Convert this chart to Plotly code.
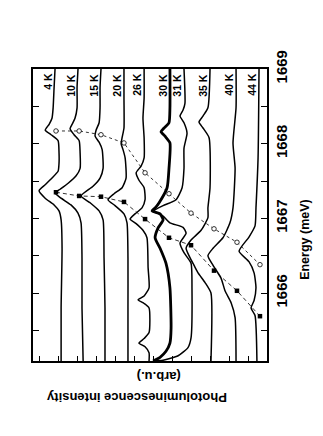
import plotly.graph_objects as go

# spectra: energy (meV) and PL intensity (arb.u., with offsets)
temps = ["4 K", "10 K", "15 K", "20 K", "26 K", "30 K", "31 K", "35 K", "40 K", "44 K"]

e_4k = [1669.00, 1668.75, 1668.48, 1668.34, 1668.26, 1668.18, 1668.12, 1668.04, 1667.88, 1667.74, 1667.63,
        1667.54, 1667.45, 1667.37, 1667.27, 1667.18, 1667.10, 1666.98, 1666.60, 1665.80, 1665.09]
i_4k = [11.16, 11.21, 11.26, 11.32, 11.47, 11.68, 11.37, 11.00, 10.95, 10.95, 11.00,
        11.32, 11.68, 12.00, 11.68, 11.21, 10.95, 10.84, 10.79, 10.84, 10.84]

e_10k = [1669.00, 1668.75, 1668.48, 1668.34, 1668.26, 1668.20, 1668.12, 1668.04, 1667.88, 1667.67, 1667.57,
         1667.47, 1667.39, 1667.34, 1667.27, 1667.18, 1667.07, 1666.94, 1666.47, 1665.80, 1665.09]
i_10k = [9.95, 10.00, 10.00, 10.11, 10.26, 10.37, 10.16, 9.89, 9.84, 9.84, 10.05,
         10.47, 10.89, 11.16, 10.84, 10.32, 9.95, 9.79, 9.74, 9.74, 9.68]

e_15k = [1669.00, 1668.75, 1668.48, 1668.28, 1668.18, 1668.10, 1668.02, 1667.92, 1667.67, 1667.54, 1667.43,
         1667.30, 1667.21, 1667.10, 1666.98, 1666.47, 1665.80, 1665.09]
i_15k = [8.74, 8.79, 8.79, 8.84, 9.00, 9.05, 8.84, 8.68, 8.63, 8.79, 9.16,
         9.79, 9.32, 8.84, 8.63, 8.58, 8.53, 8.53]

e_20k = [1669.00, 1668.61, 1668.21, 1668.08, 1668.00, 1667.92, 1667.81, 1667.54, 1667.41, 1667.33, 1667.25,
         1667.17, 1667.06, 1666.94, 1666.47, 1665.80, 1665.09]
i_20k = [7.53, 7.53, 7.53, 7.63, 7.68, 7.58, 7.47, 7.42, 7.63, 8.05, 8.37,
         8.00, 7.53, 7.37, 7.32, 7.32, 7.32]

e_26k = [1669.00, 1668.61, 1668.34, 1668.08, 1667.81, 1667.70, 1667.61, 1667.51, 1667.41, 1667.25, 1667.14,
         1667.06, 1666.99, 1666.93, 1666.84, 1666.74, 1666.34, 1666.07, 1665.96, 1665.91, 1665.86, 1665.80,
         1665.47, 1665.39, 1665.33, 1665.28, 1665.20, 1665.09]
i_26k = [6.47, 6.47, 6.53, 6.47, 6.47, 6.63, 6.89, 6.74, 6.47, 6.42, 6.58,
         6.95, 7.21, 6.89, 6.53, 6.32, 6.26, 6.21, 6.47, 6.79, 6.47, 6.21,
         6.21, 6.47, 6.74, 6.42, 6.21, 6.21]

e_30k = [1669.00, 1668.48, 1668.28, 1668.21, 1668.16, 1668.10, 1668.01, 1667.67, 1667.41, 1667.21, 1667.14,
         1667.10, 1667.06, 1666.98, 1666.87, 1666.74, 1666.60, 1666.40, 1666.07, 1665.53, 1665.33, 1665.22,
         1665.14, 1665.09]
i_30k = [5.11, 5.11, 5.16, 5.42, 5.58, 5.37, 5.11, 5.16, 5.26, 5.68, 5.89,
         6.05, 5.63, 5.47, 5.74, 5.89, 5.63, 5.32, 5.11, 5.05, 5.11, 5.32,
         5.63, 6.00]

e_31k = [1669.00, 1668.54, 1668.45, 1668.37, 1668.28, 1668.14, 1667.94, 1667.67, 1667.41, 1667.25, 1667.17,
         1667.10, 1667.03, 1666.94, 1666.88, 1666.80, 1666.67, 1666.54, 1666.40, 1666.07, 1665.40, 1665.27,
         1665.16, 1665.10, 1665.09]
i_31k = [4.37, 4.32, 4.42, 4.58, 4.37, 4.21, 4.37, 4.37, 4.47, 4.79, 5.47,
         5.95, 5.47, 5.11, 4.42, 4.26, 4.58, 4.37, 4.00, 3.95, 4.00, 4.16,
         4.68, 5.47, 6.00]

e_35k = [1669.00, 1668.48, 1668.37, 1668.29, 1668.21, 1668.08, 1667.41, 1667.14, 1667.01, 1666.84, 1666.71,
         1666.60, 1666.47, 1666.37, 1666.27, 1666.14, 1666.00, 1665.09]
i_35k = [3.00, 3.11, 3.37, 3.58, 3.37, 3.05, 3.00, 3.11, 3.11, 3.47, 4.00,
         4.26, 4.05, 3.84, 3.63, 3.26, 2.95, 2.95]

e_40k = [1669.00, 1668.48, 1668.01, 1667.67, 1667.14, 1666.94, 1666.74, 1666.60, 1666.50, 1666.37, 1666.20,
         1666.03, 1665.87, 1665.67, 1665.09]
i_40k = [1.63, 1.63, 1.79, 1.68, 1.79, 1.95, 2.32, 2.84, 3.11, 2.84, 2.42,
         2.21, 1.89, 1.68, 1.63]

e_44k = [1669.00, 1667.81, 1667.14, 1666.90, 1666.75, 1666.56, 1666.42, 1666.27, 1666.07, 1665.90, 1665.80,
         1665.70, 1665.09]
i_44k = [0.42, 0.47, 0.58, 0.63, 0.95, 1.47, 0.95, 0.68, 0.58, 0.68, 0.84, 0.63, 0.53]

# peak positions (meV) marked on each spectrum
peak_hi = [1668.17, 1668.17, 1668.12, 1668.01, 1667.61, 1667.33, 1667.07, 1666.86, 1666.68, 1666.38]
peak_x = [1667.35, 1667.30, 1667.29, 1667.22, 1666.99, 1666.74, 1666.64, 1666.30, 1666.03, 1665.69]
mark_i = [11.11, 9.89, 8.74, 7.53, 6.42, 5.16, 4.00, 2.79, 1.58, 0.37]

energies = [e_4k, e_10k, e_15k, e_20k, e_26k, e_30k, e_31k, e_35k, e_40k, e_44k]
intens = [i_4k, i_10k, i_15k, i_20k, i_26k, i_30k, i_31k, i_35k, i_40k, i_44k]

fig = go.Figure()

# peak tracks (drawn under the spectra)
fig.add_trace(go.Scatter(x=mark_i, y=peak_hi, mode="lines+markers",
                         line=dict(color="black", width=0.8, dash="dot"),
                         marker=dict(symbol="circle", size=4.5, color="white",
                                     line=dict(color="black", width=0.8))))
fig.add_trace(go.Scatter(x=mark_i, y=peak_x, mode="lines+markers",
                         line=dict(color="black", width=0.8, dash="4px,3px"),
                         marker=dict(symbol="square", size=4.5, color="black")))

for t, e, i in zip(temps, energies, intens):
    w = 2.8 if t == "30 K" else 1.5
    fig.add_trace(go.Scatter(x=i, y=e, mode="lines", line_shape="spline",
                             line=dict(color="black", width=w, smoothing=0.55)))
    fig.add_annotation(x=i[0] + 0.37, y=1668.97, text="<b>" + t + "</b>", textangle=-90,
                       showarrow=False, xanchor="center", yanchor="top",
                       font=dict(size=10.5, family="Arial", color="black"))

fig.add_annotation(xref="paper", yref="paper", x=0.538, y=-0.055, text="<b>(arb.u.)</b>",
                   xanchor="center", yanchor="middle",
                   textangle=180, showarrow=False, font=dict(size=13, family="Arial", color="black"))
fig.add_annotation(xref="paper", yref="paper", x=0.44, y=-0.123, text="<b>Photoluminescence intensity</b>",
                   xanchor="center", yanchor="middle",
                   textangle=180, showarrow=False, font=dict(size=13, family="Arial", color="black"))
fig.add_annotation(xref="paper", yref="paper", x=1.162, y=0.418, text="<b>Energy (meV)</b>",
                   xanchor="center", yanchor="middle",
                   textangle=-90, showarrow=False, font=dict(size=12.5, family="Arial", color="black"))

fig.update_xaxes(range=[12.32, 0], showline=True, linecolor="black", linewidth=1.5, mirror=True,
                 ticks="inside", ticklen=5, tickwidth=1, tickcolor="black", dtick=1, tick0=0,
                 showticklabels=False, showgrid=False, zeroline=False)
fig.update_yaxes(range=[1665.09, 1669.0], side="right", showline=True, linecolor="black", linewidth=1.5,
                 mirror="allticks", ticks="inside", ticklen=6, tickwidth=1, tickcolor="black",
                 tickvals=[1666, 1667, 1668, 1669], ticktext=["<b>1666</b>", "<b>1667</b>", "<b>1668</b>", "<b>1669</b>"],
                 tickangle=-90, tickfont=dict(size=15, family="Arial", color="black"),
                 minor=dict(tickvals=[1665.5, 1666.5, 1667.5, 1668.5], ticks="inside", ticklen=6,
                            tickcolor="black", tickwidth=1),
                 showgrid=False, zeroline=False)

fig.update_layout(width=323, height=436, showlegend=False,
                  margin=dict(l=25, r=64, t=61, b=83),
                  paper_bgcolor="white", plot_bgcolor="white")

fig.write_html("out.html")
